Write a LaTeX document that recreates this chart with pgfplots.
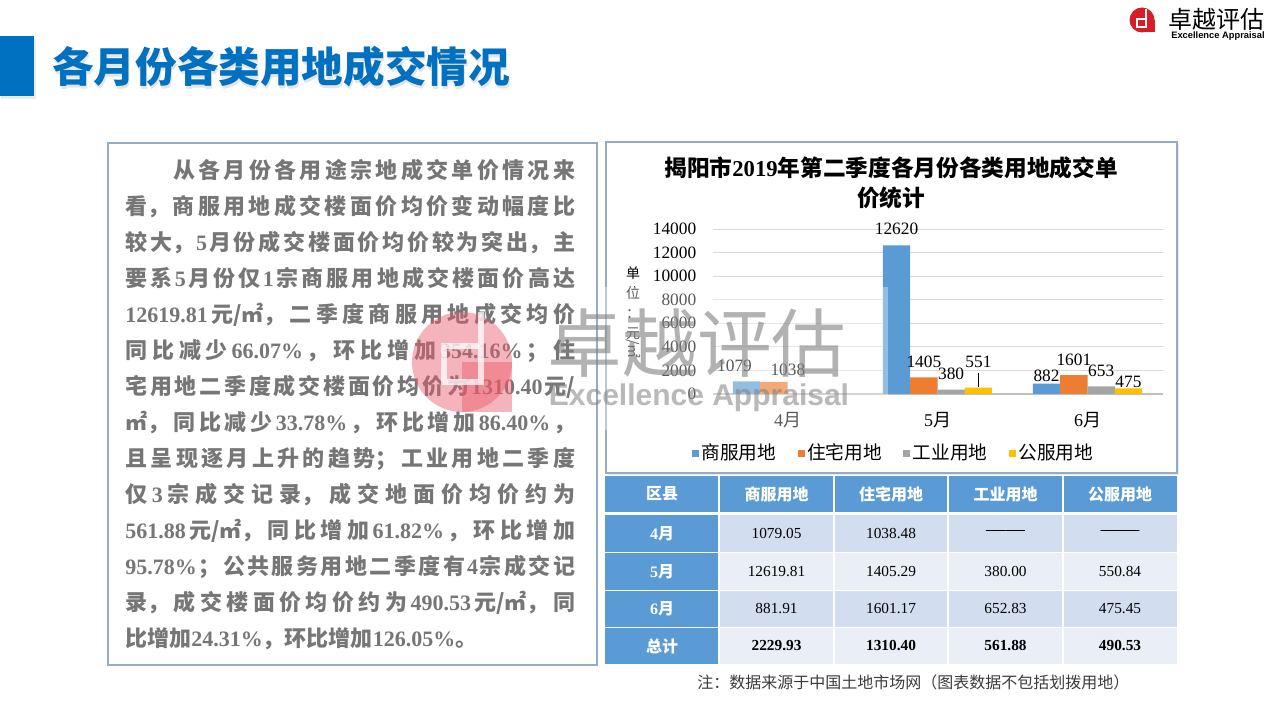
\documentclass[border=0pt]{standalone}
\usepackage{fontspec}
\usepackage{pgfplots}
\usepackage{pgfplotstable}
\pgfplotsset{compat=1.18}
\setmainfont{Liberation Serif}
\newfontfamily\tnr{Liberation Serif}
\newfontfamily\cjk{Noto Sans CJK SC}
\newfontfamily\arial{Liberation Sans}
\definecolor{hblue}{RGB}{0,112,192}
\definecolor{sf}{RGB}{91,155,213}
\definecolor{zz}{RGB}{237,125,49}
\definecolor{gy}{RGB}{165,165,165}
\definecolor{gf}{RGB}{255,192,0}
\definecolor{txtgray}{RGB}{118,118,118}
\definecolor{gridc}{RGB}{217,217,217}
\definecolor{axisc}{RGB}{191,191,191}
\definecolor{boxc}{RGB}{150,172,198}
\definecolor{tb1}{RGB}{210,222,239}
\definecolor{tb2}{RGB}{234,239,247}
\definecolor{thdr}{RGB}{91,155,213}
\definecolor{logored}{RGB}{215,30,40}
\definecolor{wmpink}{RGB}{235,90,105}
\definecolor{notegray}{RGB}{60,60,60}
\newcommand\N[1]{\hskip0pt plus 3pt{\tnr\bfseries #1}\hskip0pt plus 3pt\relax}
\newcommand\U{元\kern0pt/\kern0pt㎡}

\pgfplotstableread{
x y lab dx dy
0 1079.05 1079 -9 11.25
1 12619.81 12620 0 12
2 881.91 882 0 5.7
}\tSF
\pgfplotstableread{
x y lab dx dy
0 1038.48 1038 10.5 9
1 1405.29 1405 0 11.6
2 1601.17 1601 0 11.25
}\tZZ
\pgfplotstableread{
x y lab dx dy
1 380.00 380 0 11.6
2 652.83 653 0 11.25
}\tGY
\pgfplotstableread{
x y lab dx dy
1 550.84 551 0 19
2 475.45 475 0 4.8
}\tGF

\pgfplotsset{
  bars/.style={draw=none, point meta=explicit symbolic,
    visualization depends on={\thisrow{dx}\as\dx},
    visualization depends on={\thisrow{dy}\as\dy},
    nodes near coords,
    every node near coord/.append style={anchor=center, inner sep=0pt, xshift=\dx, yshift=\dy,
      font=\tnr\fontsize{13}{13}\selectfont, text=black}},
}

\begin{document}
\begin{tikzpicture}
\useasboundingbox (0,0) rectangle (960pt,540pt);
\fill[white] (0,0) rectangle (960pt,540pt);
\begin{scope}[x=0.75pt,y=-0.75pt,yshift=540pt]
  % header
  \fill[black,opacity=0.08] (1,39) rectangle (36,99);
  \fill[hblue] (0,36) rectangle (34,96);
  \node[anchor=west, inner sep=0pt, text=black, opacity=0.10, font=\cjk\bfseries\fontsize{31.2}{31.2}\selectfont] at (53,70) {各月份各类用地成交情况};
  \node[anchor=west, inner sep=0pt, text=hblue, font=\cjk\bfseries\fontsize{31.2}{31.2}\selectfont] at (52,67) {各月份各类用地成交情况};
  % top-right logo
  \fill[logored] (1142,20) circle (12.5);
  \fill[logored] (1142,20) rectangle (1154.5,32.5);
  \draw[white, line width=1.5pt] (1146,9) -- (1146,27) -- (1137,27) -- (1137,19) -- (1146,19);
  \node[inner sep=0pt, font=\cjk\fontsize{18}{18}\selectfont, text=black] at (1216,19) {卓越评估};
  \node[inner sep=0pt, font=\arial\bfseries\fontsize{7}{7}\selectfont, text=black] at (1218,36) {Excellence Appraisal};
  % text panel
  \draw[boxc, line width=0.8pt] (108,143) rectangle (597,665);
  \node[anchor=base west, inner sep=0pt, text width=337.5pt, align=justify, text=txtgray,
        font=\cjk\bfseries\fontsize{16.5}{27}\selectfont] at (125,178.4)
  {\XeTeXlinebreaklocale "zh"\XeTeXlinebreakskip=0pt plus 4pt\relax\tolerance=10000\relax
  \hspace*{36pt}从各月份各用途宗地成交单价情况来\linebreak%
  看，商服用地成交楼面价均价变动幅度比\linebreak%
  较大，\N{5}月份成交楼面价均价较为突出，主\linebreak%
  要系\N{5}月份仅\N{1}宗商服用地成交楼面价高达\linebreak%
  \N{12619.81}\U，二季度商服用地成交均价\linebreak%
  同比减少\N{66.07\%}，环比增加\N{354.16\%}；住\linebreak%
  宅用地二季度成交楼面价均价为\N{1310.40}元/\linebreak%
  ㎡，同比减少\N{33.78\%}，环比增加\N{86.40\%}，\linebreak%
  且呈现逐月上升的趋势；工业用地二季度\linebreak%
  仅\N{3}宗成交记录，成交地面价均价约为\linebreak%
  \N{561.88}\U，同比增加\N{61.82\%}，环比增加\linebreak%
  \N{95.78\%}；公共服务用地二季度有\N{4}宗成交记\linebreak%
  录，成交楼面价均价约为\N{490.53}\U，同\linebreak%
  比增加\N{24.31\%}，环比增加\N{126.05\%}。};
  % chart box
  \fill[black,opacity=0.08] (608,144) rectangle (1179,475);
  \fill[white] (606,142) rectangle (1177,473);
  \draw[boxc, line width=0.8pt] (606,142) rectangle (1177,473);
  \node[inner sep=0pt, font=\cjk\bfseries\fontsize{17}{17}\selectfont] at (891,168) {揭阳市{\tnr\bfseries 2019}年第二季度各月份各类用地成交单};
  \node[inner sep=0pt, font=\cjk\bfseries\fontsize{17}{17}\selectfont] at (891,198) {价统计};
  \node[inner sep=0pt, align=center, font=\cjk\fontsize{10.5}{15}\selectfont] at (633,303) {单\\位\\：\\元};
  \node[inner sep=0pt, rotate=-90, font=\cjk\fontsize{10.5}{10.5}\selectfont] at (633,349) {/㎡};
\end{scope}

\begin{axis}[
  at={(534.375pt,244.5pt)}, anchor=south west,
  scale only axis, width=337.5pt, height=123.75pt,
  xmin=-0.5, xmax=2.5, ymin=0, ymax=14000,
  clip=false,
  ybar, bar width=0.182,
  xtick={0,1,2},
  xticklabels={{{\tnr 4}月},{{\tnr 5}月},{{\tnr 6}月}},
  ytick={0,2000,4000,6000,8000,10000,12000,14000},
  scaled y ticks=false,
  /pgf/number format/1000 sep={},
  /pgf/number format/assume math mode=true,
  ymajorgrids, grid style={draw=gridc, line width=0.6pt},
  axis line style={draw=none},
  major tick length=0pt,
  yticklabel style={font=\tnr\fontsize{13}{13}\selectfont, anchor=east, inner sep=0pt, xshift=-12pt},
  xticklabel style={font=\cjk\fontsize{13.5}{13.5}\selectfont, anchor=center, inner sep=0pt, yshift=-19.5pt},
  legend style={at={(0.403,-0.358)}, anchor=center, draw=none, fill=none,
    font=\cjk\fontsize{14}{14}\selectfont, legend columns=4,
    /tikz/every even column/.append style={column sep=14pt}},
  legend cell align=left,
  legend image code/.code={\fill[#1] (0pt,-2.6pt) rectangle (5.25pt,2.6pt);},
]
\draw[axisc, line width=0.8pt] (axis cs:-0.5,0) -- (axis cs:2.5,0);
\addplot[bars, fill=sf, bar shift=-0.273] table[x=x, y=y, meta=lab]{\tSF};
\addplot[bars, fill=zz, bar shift=-0.091] table[x=x, y=y, meta=lab]{\tZZ};
\addplot[bars, fill=gy, bar shift=0.091] table[x=x, y=y, meta=lab]{\tGY};
\addplot[bars, fill=gf, bar shift=0.273] table[x=x, y=y, meta=lab]{\tGF};
\draw[black, line width=0.6pt] (axis cs:1.273,600) -- (axis cs:1.273,1780);
\legend{商服用地,住宅用地,工业用地,公服用地}
\end{axis}

\begin{scope}[x=0.75pt,y=-0.75pt,yshift=540pt]
  % table
  \fill[thdr] (605,476) rectangle (1177,512);
  \fill[thdr] (605,515) rectangle (719,664);
  \fill[tb1] (719,515) rectangle (1177,552);
  \fill[tb2] (719,553) rectangle (1177,590);
  \fill[tb1] (719,591) rectangle (1177,627);
  \fill[tb2] (719,628) rectangle (1177,664);
  \fill[white] (605,552) rectangle (1177,553.2);
  \fill[white] (605,590) rectangle (1177,591.2);
  \fill[white] (605,627) rectangle (1177,628.2);
  \foreach \xx in {719,834,948,1063} {\fill[white] (\xx-0.8,476) rectangle (\xx+0.8,664);}
  \begin{scope}[every node/.style={inner sep=0pt, text=white, font=\cjk\bfseries\fontsize{12}{12}\selectfont}]
    \node at (662,494) {区县};
    \node at (776.5,494) {商服用地};
    \node at (891,494) {住宅用地};
    \node at (1005.5,494) {工业用地};
    \node at (1120,494) {公服用地};
    \node at (662,533.5) {{\tnr\bfseries 4}月};
    \node at (662,571.5) {{\tnr\bfseries 5}月};
    \node at (662,609) {{\tnr\bfseries 6}月};
    \node at (662,646) {总计};
  \end{scope}
  \begin{scope}[every node/.style={inner sep=0pt, text=black, font=\tnr\fontsize{11.5}{11.5}\selectfont}]
    \node at (776.5,533.5) {1079.05};
    \node at (891,533.5) {1038.48};
    \node[font=\tnr\fontsize{14.5}{14.5}\selectfont] at (1005.5,533.5) {——};
    \node[font=\tnr\fontsize{14.5}{14.5}\selectfont] at (1120,533.5) {——};
    \node at (776.5,571.5) {12619.81};
    \node at (891,571.5) {1405.29};
    \node at (1005.5,571.5) {380.00};
    \node at (1120,571.5) {550.84};
    \node at (776.5,609) {881.91};
    \node at (891,609) {1601.17};
    \node at (1005.5,609) {652.83};
    \node at (1120,609) {475.45};
    \node[font=\tnr\bfseries\fontsize{11.5}{11.5}\selectfont] at (776.5,646) {2229.93};
    \node[font=\tnr\bfseries\fontsize{11.5}{11.5}\selectfont] at (891,646) {1310.40};
    \node[font=\tnr\bfseries\fontsize{11.5}{11.5}\selectfont] at (1005.5,646) {561.88};
    \node[font=\tnr\bfseries\fontsize{11.5}{11.5}\selectfont] at (1120,646) {490.53};
  \end{scope}
  % footnote
  \node[anchor=west, inner sep=0pt, text width=371.25pt, align=justify, text=notegray,
        font=\cjk\fontsize{12}{14}\selectfont] at (697,682)
  {\XeTeXlinebreaklocale "zh"\XeTeXlinebreakskip=0pt plus 5pt\relax\parfillskip=0pt\relax\tolerance=10000\relax 注：数据来源于中国土地市场网（图表数据不包括划拨用地）};
  % watermark
  \fill[white, opacity=0.35] (598,287) rectangle (888,430);
  \begin{scope}[opacity=0.45]
    \fill[wmpink] (462,362) circle (50);
    \fill[wmpink] (462,362) rectangle (512,412);
  \end{scope}
  \begin{scope}[opacity=0.75]
    \draw[white, line width=5pt] (481,312) -- (481,382) -- (444,382) -- (444,346) -- (481,346);
  \end{scope}
  \node[inner sep=0pt, text=gray, opacity=0.6, font=\cjk\fontsize{56}{56}\selectfont] at (697,343) {卓越评估};
  \node[inner sep=0pt, text=gray, opacity=0.55, font=\arial\bfseries\fontsize{22.5}{22.5}\selectfont] at (699,398) {Excellence Appraisal};
\end{scope}
\end{tikzpicture}
\end{document}
